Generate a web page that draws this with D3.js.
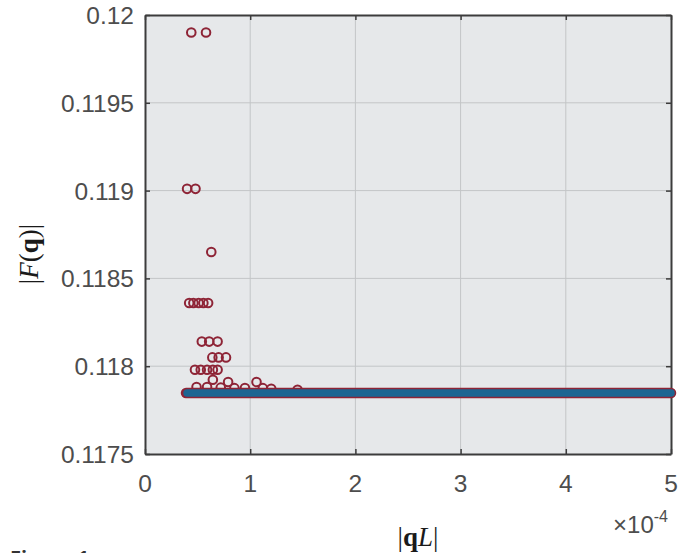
<!DOCTYPE html>
<html>
<head>
<meta charset="utf-8">
<script src="https://cdn.jsdelivr.net/npm/d3@7"></script>
<style>
  html, body { margin: 0; padding: 0; background: #ffffff; }
  svg { display: block; }
</style>
</head>
<body>
<svg id="chart" width="690" height="553"></svg>
<script>
// |qL| positions are stored in units of 1e-4 (the axis carries a ×10^-4 exponent)

// Converged level: densely sampled open-circle series
const baseQ = [0.39, 0.5, 0.75, 1.0, 1.5, 2.0, 2.5, 3.0, 3.5, 4.0, 4.5, 5.0];
const baseF = [0.117847, 0.117847, 0.117847, 0.117847, 0.117847, 0.117847,
               0.117847, 0.117847, 0.117847, 0.117847, 0.117847, 0.117847];

// Scattered open circles at small |qL|
const spreadQ = [0.44, 0.58,
                 0.40, 0.48,
                 0.63,
                 0.42, 0.46, 0.51, 0.555, 0.60,
                 0.54, 0.61, 0.69,
                 0.64, 0.70, 0.77,
                 0.475, 0.53, 0.59, 0.645, 0.69,
                 0.645, 0.79, 1.06,
                 0.49, 0.59, 0.72, 0.85, 0.95, 1.12, 1.2, 1.45];
const spreadF = [0.11990, 0.11990,
                 0.11901, 0.11901,
                 0.11865,
                 0.11836, 0.11836, 0.11836, 0.11836, 0.11836,
                 0.11814, 0.11814, 0.11814,
                 0.11805, 0.11805, 0.11805,
                 0.11798, 0.11798, 0.11798, 0.11798, 0.11798,
                 0.117923, 0.11791, 0.11791,
                 0.117881, 0.117881, 0.117878, 0.117875, 0.117876, 0.117875, 0.117872, 0.117866];

// Reference curve drawn as a thick solid line
const lineQ = [0.40, 1.0, 2.0, 3.0, 4.0, 5.0];
const lineF = [0.117847, 0.117847, 0.117847, 0.117847, 0.117847, 0.117847];

// Tick values
const xTicks = [0, 1, 2, 3, 4, 5];
const yTicks = [0.1175, 0.118, 0.1185, 0.119, 0.1195, 0.12];
const yTickLabels = ["0.1175", "0.118", "0.1185", "0.119", "0.1195", "0.12"];

const svg = d3.select("#chart");
const L = 145, R = 671, T = 15, B = 454;

const x = d3.scaleLinear().domain([0, 5]).range([L, R]);
const y = d3.scaleLinear().domain([0.1175, 0.12]).range([B, T]);

const redC = "#8e2436";
const blueC = "#1d6592";
const axisC = "#3c3c3c";
const textC = "#4d4d4d";

// plot background
svg.append("rect")
  .attr("x", L).attr("y", T)
  .attr("width", R - L).attr("height", B - T)
  .attr("fill", "#e6e8ea");

// grid
const grid = svg.append("g").attr("stroke", "#c3c5c7").attr("stroke-width", 1);
xTicks.slice(1, -1).forEach(t => {
  grid.append("line").attr("x1", x(t)).attr("x2", x(t)).attr("y1", T).attr("y2", B);
});
yTicks.slice(1, -1).forEach(t => {
  grid.append("line").attr("x1", L).attr("x2", R).attr("y1", y(t)).attr("y2", y(t));
});

// axes with inward ticks on all four sides
const tickLen = 5;
const gB = svg.append("g").attr("transform", `translate(0,${B})`)
  .call(d3.axisBottom(x).tickValues(xTicks).tickSizeInner(-tickLen).tickSizeOuter(0).tickFormat(""));
const gT = svg.append("g").attr("transform", `translate(0,${T})`)
  .call(d3.axisTop(x).tickValues(xTicks).tickSizeInner(-tickLen).tickSizeOuter(0).tickFormat(""));
const gL = svg.append("g").attr("transform", `translate(${L},0)`)
  .call(d3.axisLeft(y).tickValues(yTicks).tickSizeInner(-tickLen).tickSizeOuter(0).tickFormat(""));
const gR = svg.append("g").attr("transform", `translate(${R},0)`)
  .call(d3.axisRight(y).tickValues(yTicks).tickSizeInner(-tickLen).tickSizeOuter(0).tickFormat(""));
[gB, gT, gL, gR].forEach(g => {
  g.selectAll("path.domain").attr("stroke", axisC).attr("stroke-width", 2);
  g.selectAll(".tick line").attr("stroke", axisC).attr("stroke-width", 1.5);
});

// tick labels
const tickFont = "'Liberation Sans', Arial, Helvetica, sans-serif";
svg.append("g").selectAll("text").data(xTicks).join("text")
  .attr("x", d => x(d)).attr("y", 492)
  .attr("text-anchor", "middle")
  .attr("font-family", tickFont).attr("font-size", 24.5)
  .attr("fill", textC)
  .text(d => d);
svg.append("g").selectAll("text").data(yTicks).join("text")
  .attr("x", 134).attr("y", d => y(d) + 9)
  .attr("text-anchor", "end")
  .attr("font-family", tickFont).attr("font-size", 24.5)
  .attr("fill", textC)
  .text((d, i) => yTickLabels[i]);

// exponent label
const ex = svg.append("text")
  .attr("x", 668).attr("y", 533)
  .attr("text-anchor", "end")
  .attr("font-family", tickFont).attr("font-size", 24)
  .attr("fill", textC);
ex.append("tspan").text("×10");
ex.append("tspan").attr("dy", -11).attr("font-size", 16).text("-4");

// axis titles
const serif = "'Liberation Serif', 'Times New Roman', serif";
const xl = svg.append("text")
  .attr("x", 418).attr("y", 546)
  .attr("text-anchor", "middle")
  .attr("font-family", serif).attr("font-size", 27)
  .attr("fill", "#1a1a1a");
xl.append("tspan").text("|");
xl.append("tspan").attr("font-weight", "bold").text("q");
xl.append("tspan").attr("font-style", "italic").text("L");
xl.append("tspan").text("|");

const yl = svg.append("text")
  .attr("transform", "translate(38,254) rotate(-90)")
  .attr("text-anchor", "middle")
  .attr("font-family", serif).attr("font-size", 27)
  .attr("fill", "#1a1a1a");
yl.append("tspan").text("|");
yl.append("tspan").attr("font-style", "italic").text("F");
yl.append("tspan").text("(");
yl.append("tspan").attr("font-weight", "bold").text("q");
yl.append("tspan").text(")|");

// figure caption, running off the bottom edge of the page
svg.append("text")
  .attr("x", 10).attr("y", 565)
  .attr("font-family", "'Open Sans', 'Liberation Sans', sans-serif")
  .attr("font-weight", "bold").attr("font-size", 20)
  .attr("fill", "#333")
  .text("Figure 1");

// data
const plot = svg.append("g");
const lineGen = d3.line().x(d => x(d[0])).y(d => y(d[1]));

// dense open-circle series rendered as a band of overlapping rings
plot.append("path")
  .datum(baseQ.map((q, i) => [q, baseF[i]]))
  .attr("d", lineGen)
  .attr("fill", "none")
  .attr("stroke", redC).attr("stroke-width", 10.5)
  .attr("stroke-linecap", "round");

plot.append("g").selectAll("circle")
  .data(spreadQ.map((q, i) => [q, spreadF[i]]))
  .join("circle")
  .attr("cx", d => x(d[0])).attr("cy", d => y(d[1]))
  .attr("r", 4.3)
  .attr("fill", "none")
  .attr("stroke", redC).attr("stroke-width", 2);

plot.append("path")
  .datum(lineQ.map((q, i) => [q, lineF[i]]))
  .attr("d", lineGen)
  .attr("fill", "none")
  .attr("stroke", blueC).attr("stroke-width", 7.5)
  .attr("stroke-linecap", "round");
</script>
</body>
</html>
